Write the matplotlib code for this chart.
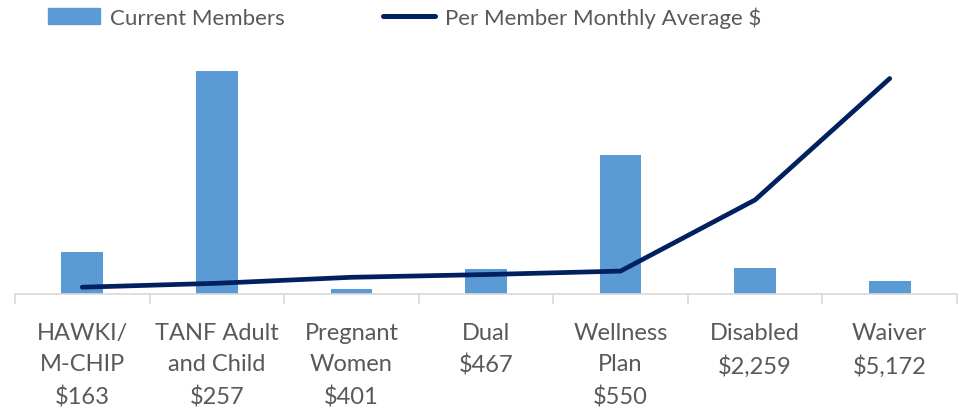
import matplotlib.pyplot as plt
import numpy as np
from matplotlib.lines import Line2D
from matplotlib.patches import Patch

# data
categories = ['HAWKI/\nM-CHIP\n$163', 'TANF Adult\nand Child\n$257', 'Pregnant\nWomen\n$401',
              'Dual\n$467', 'Wellness\nPlan\n$550', 'Disabled\n$2,259', 'Waiver\n$5,172']
members = [67000, 357000, 8000, 40000, 222000, 42000, 21000]
avg_cost = [163, 257, 401, 467, 550, 2259, 5172]

plt.rcParams['font.family'] = ['Lato', 'DejaVu Sans']
grey = '#595959'

fig = plt.figure(figsize=(9.63, 4.10), dpi=100)
ax = fig.add_axes([15/963, 1-295/410, 942/963, 250/410])
x = np.arange(len(categories))

ax.bar(x, members, width=0.31, color='#5B9BD5', zorder=2)
ax.set_ylim(0, 400000)
ax.set_xlim(-0.5, len(categories)-0.5)

ax2 = ax.twinx()
ax2.plot(x, avg_cost, color='#002060', lw=3.4, solid_capstyle='round', zorder=3)
ax2.set_ylim(0, 6000)

for a in (ax, ax2):
    for s in ('top', 'right', 'left'):
        a.spines[s].set_visible(False)
    a.set_yticks([])
ax2.spines['bottom'].set_visible(False)
ax.spines['bottom'].set_color('#d9d9d9')
ax.spines['bottom'].set_linewidth(1.2)

ax.set_xticks(x)
ax.set_xticklabels(categories, fontsize=17, color=grey, linespacing=1.62)
ax.tick_params(axis='x', which='major', length=0, pad=20)
ax.set_xticks(np.arange(-0.5, len(categories)), minor=True)
ax.tick_params(axis='x', which='minor', length=7, width=1.2, color='#d9d9d9')

handles = [Patch(color='#5B9BD5', label='Current Members'),
           Line2D([], [], color='#002060', lw=3.6, solid_capstyle='round',
                  label='Per Member Monthly Average $')]
fig.legend(handles=handles, loc='center left', bbox_to_anchor=(48/963, 1-18/410), ncol=2,
           frameon=False, fontsize=16, labelcolor=grey, handlelength=2.35,
           handletextpad=0.45, columnspacing=4.4, borderpad=0, borderaxespad=0)

fig.savefig('out.png', dpi=100)
